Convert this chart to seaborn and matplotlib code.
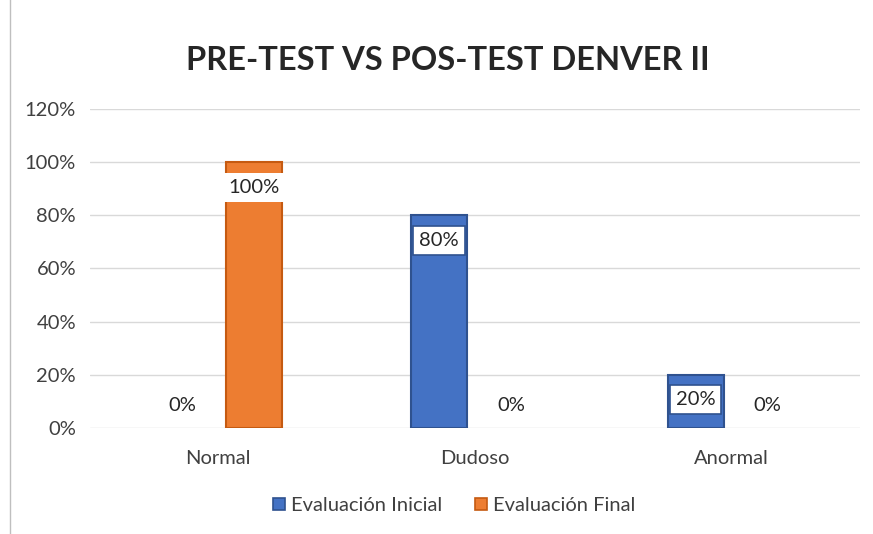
import pandas as pd
import seaborn as sns
import matplotlib
matplotlib.use('Agg')
import matplotlib.pyplot as plt
from matplotlib.patches import Rectangle

# datos del grafico
categorias = ["Normal", "Dudoso", "Anormal"]
evaluacion_inicial = [0.0, 0.80, 0.20]
evaluacion_final = [1.00, 0.0, 0.0]
series = ["Evaluación Inicial", "Evaluación Final"]

df = pd.DataFrame({
    "categoria": categorias * 2,
    "valor": evaluacion_inicial + evaluacion_final,
    "serie": [series[0]] * 3 + [series[1]] * 3,
})

azul = "#4472C4"
naranja = "#ED7D31"
borde = {series[0]: "#2F528F", series[1]: "#C55A11"}
fs = 14.5

sns.set_style("white")
plt.rcParams['font.family'] = ['Lato', 'DejaVu Sans']

fig = plt.figure(figsize=(8.73, 5.34), dpi=100)
ax = fig.add_axes([0.103, 0.1985, 0.882, 0.5975])

sns.barplot(data=df, x="categoria", y="valor", hue="serie",
            palette=[azul, naranja], width=0.56, gap=0.22, ax=ax,
            legend=False, saturation=1)

# bordes de las barras (sin borde si el valor es cero)
for cont, s in zip(ax.containers, series):
    for barra in cont:
        barra.set_edgecolor(borde[s])
        barra.set_linewidth(1.5 if barra.get_height() > 0 else 0)

# etiquetas de datos
for cont, s in zip(ax.containers, series):
    for barra in cont:
        v = barra.get_height()
        xc = barra.get_x() + barra.get_width() / 2
        txt = f"{v:.0%}"
        if v == 0:
            ax.annotate(txt, (xc, 0), xytext=(0, 16), textcoords="offset points",
                        ha="center", va="center", fontsize=fs, color="#262626")
        else:
            caja = dict(boxstyle="square,pad=0.3", fc="white",
                        ec="none" if s == series[1] else borde[s], lw=1.2)
            ax.annotate(txt, (xc, v), xytext=(0, -18), textcoords="offset points",
                        ha="center", va="center", fontsize=fs, color="#262626",
                        bbox=caja)

ax.set_ylim(0, 1.2)
ax.set_yticks([0, 0.2, 0.4, 0.6, 0.8, 1.0, 1.2])
ax.set_yticklabels([f"{t}%" for t in range(0, 121, 20)])
ax.set_xlim(-0.5, 2.5)
ax.yaxis.grid(True, color="#D9D9D9", linewidth=1)
ax.set_axisbelow(True)
for sp in ax.spines.values():
    sp.set_visible(False)
ax.tick_params(axis="both", length=0, labelsize=fs, colors="#404040", pad=10)
ax.tick_params(axis="x", pad=16)
ax.set_xlabel("")
ax.set_ylabel("")

fig.text(0.513, 0.887, "PRE-TEST VS POS-TEST DENVER II", ha="center", va="center",
         fontsize=23.5, fontweight="bold", color="#262626")

# leyenda
handles = [Rectangle((0, 0), 1, 1, fc=azul, ec=borde[series[0]], lw=1.2),
           Rectangle((0, 0), 1, 1, fc=naranja, ec=borde[series[1]], lw=1.2)]
fig.legend(handles, series, loc="center", bbox_to_anchor=(0.52, 0.053), ncol=2,
           frameon=False, fontsize=fs, handlelength=0.6, handleheight=0.6,
           handletextpad=0.3, columnspacing=1.6, labelcolor="#404040")

# borde del area del grafico
fig.add_artist(Rectangle((0.012, -0.01), 1.0, 1.02, transform=fig.transFigure,
                         fill=False, ec="#BFBFBF", lw=1))

fig.savefig("out.png", dpi=100)
